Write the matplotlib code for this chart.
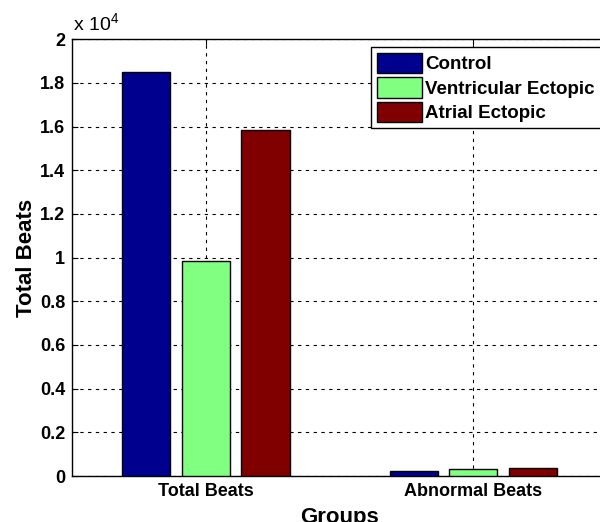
import numpy as np
import matplotlib.pyplot as plt
from matplotlib.ticker import FuncFormatter

plt.rcParams['font.family'] = ['Liberation Sans', 'DejaVu Sans']
plt.rcParams['font.weight'] = 'bold'

groups = ['Total Beats', 'Abnormal Beats']
series = ['Control', 'Ventricular Ectopic', 'Atrial Ectopic']
control = [18500, 250]
ventricular = [9850, 340]
atrial = [15850, 350]
colors = ['#00008f', '#80ff80', '#800000']

fig = plt.figure(figsize=(6, 5.22), dpi=100)
ax = fig.add_axes([0.12, 0.088, 0.892, 0.837])

x = np.arange(1, len(groups) + 1)
w = 0.18
off = 0.223
for i, (vals, lab) in enumerate(zip([control, ventricular, atrial], series)):
    ax.bar(x + (i - 1) * off, vals, w, color=colors[i], edgecolor='black', linewidth=1, label=lab, zorder=3)

ax.set_xlim(0.5, 2.5)
ax.set_ylim(0, 20000)
ax.set_yticks(np.arange(0, 20001, 2000))
ax.yaxis.set_major_formatter(FuncFormatter(lambda v, p: ('%g' % round(v / 1e4, 1))))
ax.set_xticks(x)
ax.set_xticklabels(groups)
ax.tick_params(direction='in', labelsize=13, length=4, top=True, right=True, pad=5)
ax.grid(True, linestyle=(0, (3, 4)), color='black', linewidth=0.8, zorder=0)
for s in ax.spines.values():
    s.set_linewidth(1)

ax.set_xlabel('Groups', fontsize=16, fontweight='bold', labelpad=5)
ax.set_ylabel('Total Beats', fontsize=16, fontweight='bold', labelpad=2)
ax.text(0.002, 1.01, 'x 10$^{\\mathregular{4}}$', transform=ax.transAxes, fontsize=14, fontweight='normal',
        va='bottom', ha='left')

leg = ax.legend(loc='upper left', bbox_to_anchor=(371 / 600, 1 - 47 / 522), bbox_transform=fig.transFigure,
                fontsize=13.5, fancybox=False, edgecolor='black', framealpha=1,
                handlelength=2.4, handleheight=1.3, handletextpad=0.2, borderpad=0.3,
                labelspacing=0.22, borderaxespad=0)
leg.get_frame().set_linewidth(1)

plt.savefig('out.png', dpi=100)
